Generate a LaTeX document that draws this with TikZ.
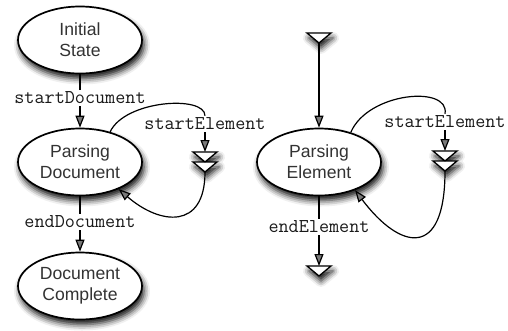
\documentclass[tikz,border=0pt]{standalone}
\usepackage{fontspec}
\setmainfont{Liberation Sans}
\usetikzlibrary{shapes.geometric,arrows.meta,shadows.blur}

\begin{document}
\begin{tikzpicture}[x=1pt,y=-1pt,
  softshadow/.style={blur shadow={shadow xshift=2pt, shadow yshift=-5pt,
      shadow blur radius=6pt, shadow opacity=95}},
  state/.style={ellipse, draw, line width=1.7pt, fill=white,
      minimum width=124pt, minimum height=67pt, inner sep=0pt,
      align=center, font=\fontsize{17.6}{21}\selectfont,
      text=black!80, softshadow},
  event/.style={inner sep=2pt, font=\ttfamily\fontsize{19.6}{22}\selectfont,
      text=black!90},
  slot/.style={minimum width=24pt, minimum height=10pt, inner sep=0pt, outer sep=0pt},
  dslot/.style={minimum width=24pt, minimum height=20pt, inner sep=0pt, outer sep=0pt},
  tri/.style={draw, line width=1.3pt, fill=white, line join=miter, softshadow},
  plain/.style={line width=1.2pt},
  flow/.style={plain, -{Triangle[length=12pt,width=9pt]}}
]
\useasboundingbox (0,0) rectangle (508,330);

% document-level states
\node[state] (init)  at (80,40)  {Initial\\State};
\node[state] (pdoc)  at (80,162) {Parsing\\Document};
\node[state] (dcomp) at (80,286) {Document\\Complete};

% element-level state
\node[state] (pel) at (319,162) {Parsing\\Element};

% event labels sitting on the transitions
\node[event] (sdoc) at (80,98)   {startDocument};
\node[event] (edoc) at (80,222)  {endDocument};
\node[event] (sel1) at (205,124) {startElement};
\node[event] (sel2) at (445,122) {startElement};
\node[event] (eel)  at (319,227) {endElement};

% entry / exit / nested-call markers
\node[slot]  (entry) at (319,38)  {};
\node[slot]  (exit)  at (319,271) {};
\node[dslot] (call1) at (205,162) {};
\node[dslot] (call2) at (445,161) {};

\draw[tri] (entry.north west) -- (entry.north east) -- (entry.south) -- cycle;
\draw[tri] (exit.north west) -- (exit.north east) -- (exit.south) -- cycle;
\draw[tri] (call1.north west) -- (call1.north east) -- (call1.center) -- cycle
           (call1.west) -- (call1.east) -- (call1.south) -- cycle;
\draw[tri] (call2.north west) -- (call2.north east) -- (call2.center) -- cycle
           (call2.west) -- (call2.east) -- (call2.south) -- cycle;

% document transitions
\draw[plain] (init) -- (sdoc);
\draw[flow]  (sdoc) -- (pdoc);
\draw[plain] (pdoc) -- (edoc);
\draw[flow]  (edoc) -- (dcomp);

% nested element call from the document state
\draw[plain] (pdoc.45) .. controls (125,100) and (205,95) .. (sel1.north);
\draw[flow]  (sel1) -- (call1.north);
\draw[flow]  (call1.south) .. controls (205,230) and (160,225) .. (pdoc.-35);

% element transitions
\draw[flow]  (entry.south) -- (pel);
\draw[plain] (pel) -- (eel);
\draw[flow]  (eel) -- (exit.north);

% nested element call from the element state
\draw[plain] (pel.43) .. controls (368,92) and (450,85) .. (sel2.north);
\draw[flow]  (sel2) -- (call2.north);
\draw[flow]  (call2.south) .. controls (445,260) and (400,250) .. (pel.-38);
\end{tikzpicture}
\end{document}
